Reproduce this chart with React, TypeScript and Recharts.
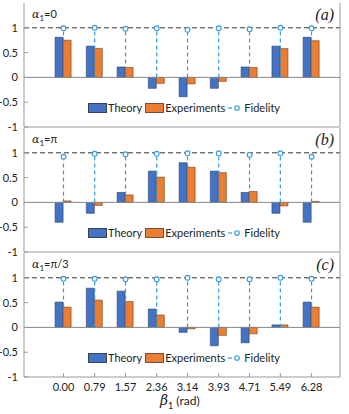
import { ComposedChart, Bar, Scatter, XAxis, YAxis, ReferenceLine, Legend } from 'recharts';

const betaTicks = [0, 0.79, 1.57, 2.36, 3.14, 3.93, 4.71, 5.49, 6.28];
const yTicks = [-1, -0.5, 0, 0.5, 1];

// alpha1 = 0
const theoryA = [0.81, 0.63, 0.21, -0.22, -0.39, -0.22, 0.21, 0.63, 0.81];
const expA = [0.75, 0.585, 0.2, -0.12, -0.13, -0.08, 0.2, 0.58, 0.74];
const fidA = [0.99, 1.0, 0.98, 0.99, 0.96, 0.99, 0.97, 1.0, 0.99];

// alpha1 = pi
const theoryB = [-0.4, -0.22, 0.2, 0.63, 0.8, 0.63, 0.2, -0.22, -0.4];
const expB = [0.03, -0.06, 0.15, 0.51, 0.71, 0.6, 0.22, -0.07, 0.02];
const fidB = [0.92, 0.98, 0.97, 0.98, 0.99, 0.99, 0.96, 0.99, 0.92];

// alpha1 = pi/3
const theoryC = [0.51, 0.79, 0.73, 0.37, -0.1, -0.37, -0.31, 0.05, 0.51];
const expC = [0.41, 0.55, 0.52, 0.25, -0.03, -0.16, -0.13, 0.05, 0.41];
const fidC = [0.98, 0.98, 0.97, 0.97, 1.0, 0.97, 0.97, 1.0, 0.98];

const BLUE = '#4472C4';
const ORANGE = '#ED7D31';
const FID = '#3399DD';
const AXIS = '#999';
const FONT = 'Lato, "Open Sans", sans-serif';

const build = (t: number[], e: number[], f: number[]) =>
  betaTicks.map((b, i) => ({ beta: b, theory: t[i], exp: e[i], fid: f[i] }));

const LegendContent = () => (
  <div style={{ display: 'flex', alignItems: 'center', whiteSpace: 'nowrap', fontFamily: FONT, fontSize: 11, color: '#222' }}>
    <span style={{ width: 17, height: 8, background: BLUE, border: '0.8px solid #345', marginRight: 1 }} />
    <span style={{ marginRight: 3 }}>Theory</span>
    <span style={{ width: 17, height: 8, background: ORANGE, border: '0.8px solid #654', marginRight: 1 }} />
    <span style={{ marginRight: 2 }}>Experiments</span>
    <svg width={16} height={10} style={{ marginRight: 1 }}>
      <line x1={1} y1={5} x2={5} y2={5} stroke={FID} strokeWidth={1.2} />
      <circle cx={10} cy={5} r={2.3} fill="#fff" stroke={FID} strokeWidth={1.1} />
    </svg>
    <span>Fidelity</span>
  </div>
);

type PanelProps = {
  rows: { beta: number; theory: number; exp: number; fid: number }[];
  top: number;
  height: number;
  bottomAxis: boolean;
};

const Panel = ({ rows, top, height, bottomAxis }: PanelProps) => (
  <div style={{ position: 'absolute', left: 0, top }}>
    <ComposedChart
      width={349}
      height={height}
      data={rows}
      margin={{ top: 3, right: 0, bottom: bottomAxis ? 0 : 6, left: 0 }}
      barGap={0}
      barSize={8}
    >
      <XAxis
        xAxisId="b"
        dataKey="beta"
        type="number"
        domain={[-1, 7]}
        ticks={betaTicks}
        tickFormatter={(v: number) => v.toFixed(2)}
        tick={bottomAxis ? { fill: '#222', fontSize: 11, fontFamily: FONT } : false}
        tickSize={-4}
        tickMargin={10}
        height={bottomAxis ? 37 : 1}
        stroke={AXIS}
        interval={0}
      />
      <XAxis
        xAxisId="t"
        orientation="top"
        dataKey="beta"
        type="number"
        domain={[-1, 7]}
        ticks={betaTicks}
        tick={false}
        tickSize={-4}
        height={0}
        stroke={AXIS}
      />
      <YAxis
        yAxisId="l"
        type="number"
        domain={[-1, 1.5]}
        ticks={yTicks}
        tickSize={-4}
        tickMargin={10}
        width={24}
        stroke={AXIS}
        tick={{ fill: '#222', fontSize: 11, fontFamily: FONT }}
        interval={0}
      />
      <YAxis
        yAxisId="r"
        orientation="right"
        type="number"
        domain={[-1, 1.5]}
        ticks={yTicks}
        tick={false}
        tickSize={-4}
        width={9}
        stroke={AXIS}
      />
      <ReferenceLine xAxisId="b" yAxisId="l" y={0} stroke="#888" strokeWidth={1} />
      <ReferenceLine xAxisId="b" yAxisId="l" y={1} stroke="#333" strokeDasharray="5 3" strokeWidth={1} />
      <Bar xAxisId="b" yAxisId="l" dataKey="theory" name="Theory" fill={BLUE} stroke="#2a3f66" strokeWidth={0.6} isAnimationActive={false} />
      <Bar xAxisId="b" yAxisId="l" dataKey="exp" name="Experiments" fill={ORANGE} stroke="#6b4020" strokeWidth={0.6} isAnimationActive={false} />
      {rows.map((r) => (
        <ReferenceLine
          key={r.beta}
          xAxisId="b"
          yAxisId="l"
          segment={[{ x: r.beta, y: 0 }, { x: r.beta, y: r.fid }]}
          stroke={FID}
          strokeDasharray="4 3"
          strokeWidth={1.2}
        />
      ))}
      <Scatter
        xAxisId="b"
        yAxisId="l"
        dataKey="fid"
        name="Fidelity"
        isAnimationActive={false}
        shape={(p: any) => <circle cx={p.cx} cy={p.cy} r={2.4} fill="#fff" stroke={FID} strokeWidth={1.1} />}
      />
      <Legend
        verticalAlign="middle"
        content={LegendContent}
        wrapperStyle={{ position: 'absolute', left: 88, top: 101, width: 'auto', height: 14 }}
      />
    </ComposedChart>
  </div>
);

const AlphaLabel = ({ y, text }: { y: number; text: string }) => (
  <text x={32} y={y} fontFamily={FONT} fontSize={11} fill="#222">
    <tspan fontFamily="'DejaVu Serif', serif" fontStyle="italic" fontSize={11}>α</tspan>
    <tspan dy={3} fontSize={8}>1</tspan>
    <tspan dy={-3}>{text}</tspan>
  </text>
);

const PanelTag = ({ y, text }: { y: number; text: string }) => (
  <text x={334} y={y} textAnchor="end" fontFamily="'Liberation Serif', serif" fontStyle="italic" fontSize={16} fill="#222">
    {text}
  </text>
);

export default function App() {
  return (
    <div style={{ position: 'absolute', left: 0, top: 0, width: 349, height: 414, background: '#fff' }}>
      <Panel rows={build(theoryA, expA, fidA)} top={0} height={134} bottomAxis={false} />
      <Panel rows={build(theoryB, expB, fidB)} top={125} height={134} bottomAxis={false} />
      <Panel rows={build(theoryC, expC, fidC)} top={250} height={164} bottomAxis={true} />
      <svg width={349} height={414} style={{ position: 'absolute', left: 0, top: 0, pointerEvents: 'none' }}>
        <AlphaLabel y={18} text="=0" />
        <AlphaLabel y={143} text="=π" />
        <AlphaLabel y={268} text="=π/3" />
        <PanelTag y={20} text="(a)" />
        <PanelTag y={145} text="(b)" />
        <PanelTag y={270} text="(c)" />
        <text x={160} y={405} fontFamily={FONT} fontSize={12} fill="#222">
          <tspan fontFamily="'DejaVu Serif', serif" fontStyle="italic" fontSize={14}>β</tspan>
          <tspan dy={4} fontSize={9}>1</tspan>
          <tspan dy={-4} dx={3}>(rad)</tspan>
        </text>
      </svg>
    </div>
  );
}
